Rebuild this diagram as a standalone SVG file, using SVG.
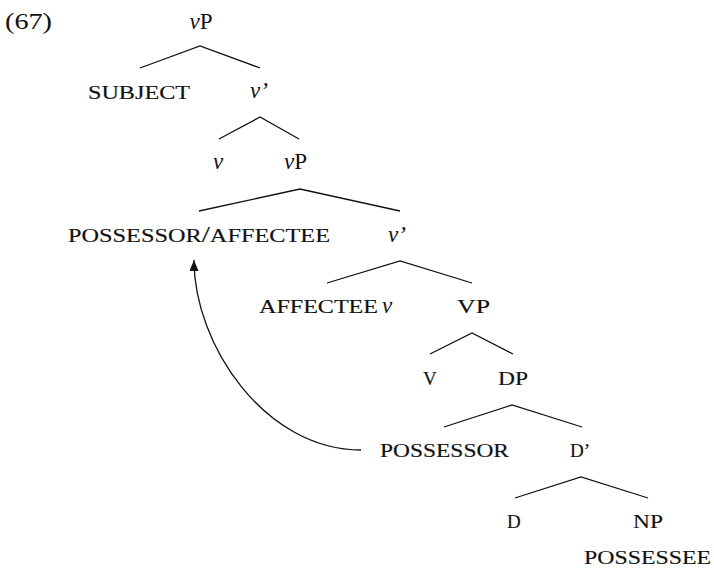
<svg xmlns="http://www.w3.org/2000/svg" width="714" height="569" viewBox="0 0 714 569">
<style>
text{font-family:"Liberation Serif","DejaVu Serif",serif;fill:#111;}
.big{font-size:23px;}
.sc{font-size:19px;stroke:#111;stroke-width:0.15;}
.it{font-style:italic;}
.edge{stroke:#111;stroke-width:1.3;fill:none;}
</style>
<defs>
<marker id="ah" viewBox="0 0 11 9" refX="11" refY="4.5" markerWidth="11" markerHeight="9" markerUnits="userSpaceOnUse" orient="auto">
<path d="M0,0 L11,4.5 L0,9 Z" fill="#111"/>
</marker>
</defs>
<rect width="714" height="569" fill="#fff"/>
<text class="big" x="5" y="29" textLength="47" lengthAdjust="spacingAndGlyphs">(67)</text>
<g id="n-vP1"><text class="big" x="201" y="29" text-anchor="middle"><tspan class="it">ν</tspan>P</text></g>
<g id="n-subject"><text class="sc" x="88" y="99" textLength="102" lengthAdjust="spacingAndGlyphs">SUBJECT</text></g>
<g id="n-vbar1"><text class="big it" x="250" y="98">ν’</text></g>
<g id="n-v1"><text class="big it" x="213" y="169">ν</text></g>
<g id="n-vP2"><text class="big" x="284" y="169"><tspan class="it">ν</tspan>P</text></g>
<g id="n-possaff"><text class="sc" x="68" y="242" textLength="262" lengthAdjust="spacingAndGlyphs">POSSESSOR<tspan font-size="23">/</tspan>AFFECTEE</text></g>
<g id="n-vbar2"><text class="big it" x="388" y="242">ν’</text></g>
<g id="n-affv"><text class="sc" x="259" y="313" textLength="119" lengthAdjust="spacingAndGlyphs">AFFECTEE</text><text class="big it" x="382" y="313">ν</text></g>
<g id="n-VP"><text class="sc" x="457" y="313" textLength="33" lengthAdjust="spacingAndGlyphs">VP</text></g>
<g id="n-V"><text class="sc" x="423" y="385">V</text></g>
<g id="n-DP"><text class="sc" x="498" y="385" textLength="30" lengthAdjust="spacingAndGlyphs">DP</text></g>
<g id="n-poss"><text class="sc" x="380" y="457" textLength="129" lengthAdjust="spacingAndGlyphs">POSSESSOR</text></g>
<g id="n-Dbar"><text class="sc" x="570" y="457">D’</text></g>
<g id="n-D"><text class="sc" x="507" y="528">D</text></g>
<g id="n-NP"><text class="sc" x="633" y="528" textLength="30" lengthAdjust="spacingAndGlyphs">NP</text><text class="sc" x="584" y="564" textLength="127" lengthAdjust="spacingAndGlyphs">POSSESSEE</text></g>
<g id="connectors">
<path class="edge" d="M140,68 L200,46 L260,68"/>
<path class="edge" d="M219,139 L260,117 L299,139"/>
<path class="edge" d="M199,211 L300,189 L400,211"/>
<path class="edge" d="M327,283 L400,261 L472,283"/>
<path class="edge" d="M430,354 L472,333 L513,354"/>
<path class="edge" d="M444,427 L512,405 L582,427"/>
<path class="edge" d="M515,498 L581,477 L648,498"/>
<path class="edge" d="M361,450 C265,450 194,345 194,260" marker-end="url(#ah)"/>
</g>
</svg>
